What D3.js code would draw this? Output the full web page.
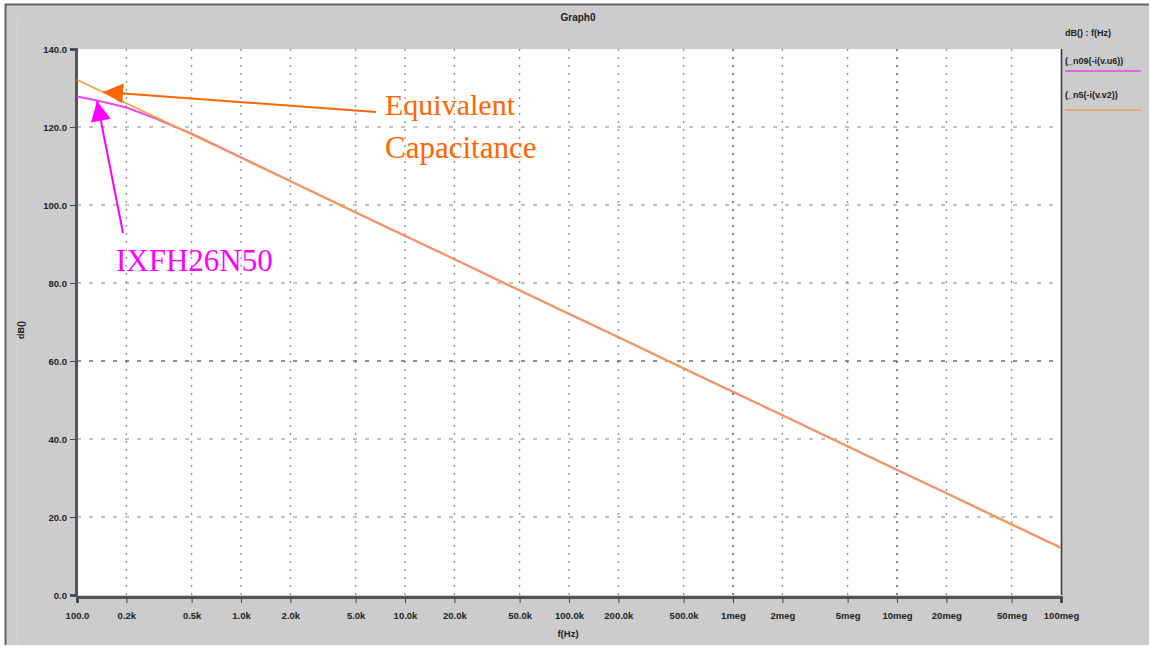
<!DOCTYPE html>
<html>
<head>
<meta charset="utf-8">
<script src="https://cdn.jsdelivr.net/npm/d3@7"></script>
<style>
  body { margin: 0; background: #fff; }
  svg text { font-family: "Liberation Sans", Arial, sans-serif; }
  .tick text { font-weight: bold; font-size: 9.5px; fill: #222; }
</style>
</head>
<body>
<script>
// tick values and labels
const xTicks = [100, 200, 500, 1e3, 2e3, 5e3, 1e4, 2e4, 5e4, 1e5, 2e5, 5e5, 1e6, 2e6, 5e6, 1e7, 2e7, 5e7, 1e8];
const xLabels = ["100.0", "0.2k", "0.5k", "1.0k", "2.0k", "5.0k", "10.0k", "20.0k", "50.0k", "100.0k", "200.0k", "500.0k", "1meg", "2meg", "5meg", "10meg", "20meg", "50meg", "100meg"];
const yTicks = [0, 20, 40, 60, 80, 100, 120, 140];
const yLabels = ["0.0", "20.0", "40.0", "60.0", "80.0", "100.0", "120.0", "140.0"];

// series: equivalent capacitance (orange) and IXFH26N50 (magenta)
const capFreq = [100, 200, 500, 1e3, 2e3, 5e3, 1e4, 2e4, 5e4, 1e5, 2e5, 5e5, 1e6, 2e6, 5e6, 1e7, 2e7, 5e7, 1e8];
const capDb = [132.1, 126.1, 118.1, 112.1, 106.1, 98.1, 92.1, 86.1, 78.1, 72.1, 66.1, 58.1, 52.1, 46.1, 38.1, 32.1, 26.1, 18.1, 12.1];
const mosFreq = [100, 120, 150, 200, 300, 500, 1e3, 2e3, 5e3, 1e4, 2e4, 5e4, 1e5, 2e5, 5e5, 1e6, 2e6, 5e6, 1e7, 2e7, 5e7, 1e8];
const mosDb = [127.8, 127.2, 126.3, 125.0, 122.2, 118.3, 112.2, 106.1, 98.1, 92.1, 86.1, 78.1, 72.1, 66.1, 58.1, 52.1, 46.1, 38.1, 32.1, 26.1, 18.1, 12.1];

const W = 1151, H = 647;
const pL = 77, pR = 1061, pT = 49, pB = 595;

const svg = d3.select("body").append("svg").attr("width", W).attr("height", H);

// frame
svg.append("rect").attr("x", 5).attr("y", 4).attr("width", W - 7).attr("height", H - 6).attr("fill", "#cccccc");
svg.append("line").attr("x1", 5).attr("x2", W - 2).attr("y1", 4.5).attr("y2", 4.5).attr("stroke", "#666").attr("stroke-width", 2);
svg.append("line").attr("x1", 5.5).attr("x2", 5.5).attr("y1", 4).attr("y2", H - 2).attr("stroke", "#666").attr("stroke-width", 2);
svg.append("line").attr("x1", 17.5).attr("x2", 17.5).attr("y1", 20).attr("y2", H - 2).attr("stroke", "#d8d8d8");

const x = d3.scaleLog().domain([100, 1e8]).range([pL, pR]);
const y = d3.scaleLinear().domain([0, 140]).range([pB, pT]);

svg.append("rect").attr("x", pL).attr("y", pT).attr("width", pR - pL).attr("height", pB - pT).attr("fill", "#fff");

// grid
svg.append("g").selectAll("line").data(xTicks.slice(1, -1)).enter().append("line")
  .attr("x1", d => x(d)).attr("x2", d => x(d))
  .attr("y1", pT).attr("y2", pB)
  .attr("stroke", d => (d === 1e6 || d === 1e7) ? "#333" : "#888")
  .attr("stroke-width", 1.2)
  .attr("stroke-dasharray", "2,6");
svg.append("g").selectAll("line").data(yTicks.slice(1, -1)).enter().append("line")
  .attr("x1", pL).attr("x2", pR)
  .attr("y1", d => y(d)).attr("y2", d => y(d))
  .attr("stroke", d => d === 60 ? "#222" : "#888")
  .attr("stroke-width", 1.2)
  .attr("stroke-dasharray", "4,8");

// plot border
svg.append("line").attr("x1", pR + 0.5).attr("x2", pR + 0.5).attr("y1", pT).attr("y2", pB).attr("stroke", "#333").attr("stroke-width", 1.5);

// axes
const xAxis = d3.axisBottom(x).tickValues(xTicks).tickFormat((d, i) => xLabels[i]).tickSize(6).tickPadding(9);
const gx = svg.append("g").attr("transform", `translate(0,${pB + 2})`).call(xAxis);
gx.select(".domain").attr("stroke", "#555").attr("stroke-width", 3);
gx.selectAll(".tick line").attr("stroke", "#444");

const yAxis = d3.axisLeft(y).tickValues(yTicks).tickFormat((d, i) => yLabels[i]).tickSize(6).tickPadding(3);
const gy = svg.append("g").attr("transform", `translate(${pL - 1},0)`).call(yAxis);
gy.select(".domain").attr("stroke", "#555").attr("stroke-width", 3);
gy.selectAll(".tick line").attr("stroke", "#444");

// titles
svg.append("text").attr("x", 578).attr("y", 21).attr("text-anchor", "middle").attr("font-size", 10).attr("font-weight", "bold").attr("fill", "#222").text("Graph0");
svg.append("text").attr("x", 568).attr("y", 637).attr("text-anchor", "middle").attr("font-size", 9.5).attr("font-weight", "bold").attr("fill", "#222").text("f(Hz)");
svg.append("text").attr("transform", "translate(24,330) rotate(-90)").attr("text-anchor", "middle").attr("font-size", 9).attr("font-weight", "bold").attr("fill", "#222").text("dB()");

// legend
svg.append("text").attr("x", 1065).attr("y", 36).attr("font-size", 9).attr("font-weight", "bold").attr("fill", "#222").text("dB() : f(Hz)");
svg.append("text").attr("x", 1065).attr("y", 64).attr("font-size", 9).attr("font-weight", "bold").attr("fill", "#222").text("(_n09(-i(v.u6))");
svg.append("line").attr("x1", 1065).attr("x2", 1141).attr("y1", 71).attr("y2", 71).attr("stroke", "#ee44ee").attr("stroke-width", 1.5);
svg.append("text").attr("x", 1065).attr("y", 98).attr("font-size", 9).attr("font-weight", "bold").attr("fill", "#222").text("(_n5(-i(v.v2))");
svg.append("line").attr("x1", 1065).attr("x2", 1141).attr("y1", 110).attr("y2", 110).attr("stroke", "#f0a050").attr("stroke-width", 1.5);

// series
const line = d3.line().x(d => x(d[0])).y(d => y(d[1]));
svg.append("path").datum(mosFreq.map((f, i) => [f, mosDb[i]])).attr("d", line)
  .attr("fill", "none").attr("stroke", "#ee44ee").attr("stroke-width", 2);
svg.append("path").datum(capFreq.map((f, i) => [f, capDb[i]])).attr("d", line)
  .attr("fill", "none").attr("stroke", "#f5a040").attr("stroke-width", 1.8);

// annotations
const defs = svg.append("defs");
function marker(id, color) {
  defs.append("marker").attr("id", id).attr("viewBox", "0 0 10 10").attr("refX", 10).attr("refY", 5)
    .attr("markerWidth", 22).attr("markerHeight", 20).attr("markerUnits", "userSpaceOnUse").attr("orient", "auto")
    .append("path").attr("d", "M0,0 L10,5 L0,10 Z").attr("fill", color);
}
marker("arrO", "#ff6600");
marker("arrM", "#ff00ff");

svg.append("line").attr("x1", 376).attr("y1", 112).attr("x2", 103).attr("y2", 92)
  .attr("stroke", "#ff6600").attr("stroke-width", 2).attr("marker-end", "url(#arrO)");
svg.append("line").attr("x1", 123).attr("y1", 233).attr("x2", 97).attr("y2", 101)
  .attr("stroke", "#ff00ff").attr("stroke-width", 2).attr("marker-end", "url(#arrM)");

const serif = "'Liberation Serif', 'Times New Roman', serif";
svg.append("text").attr("x", 385).attr("y", 115).style("font-family", serif).attr("font-size", 30).attr("fill", "#ff6600").text("Equivalent");
svg.append("text").attr("x", 385).attr("y", 158).style("font-family", serif).attr("font-size", 31).attr("fill", "#ff6600").text("Capacitance");
svg.append("text").attr("x", 116).attr("y", 271).style("font-family", serif).attr("font-size", 31).attr("fill", "#ff00ff").text("IXFH26N50");
</script>
</body>
</html>
